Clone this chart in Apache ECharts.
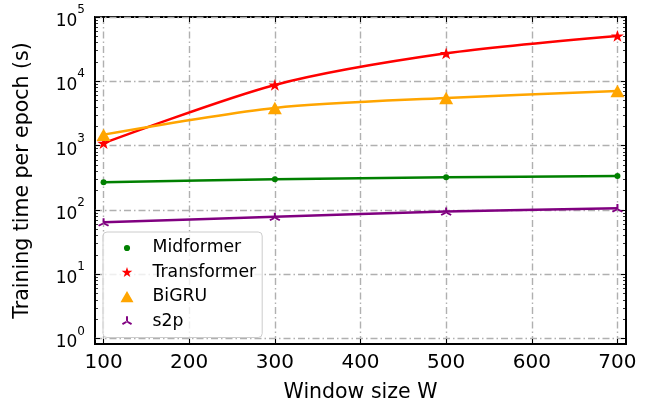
<!DOCTYPE html>
<html>
<head>
<meta charset="utf-8">
<script src="https://cdn.jsdelivr.net/npm/echarts@6/dist/echarts.min.js"></script>
<style>
  html, body { margin: 0; padding: 0; background: #fff; }
  #chart { width: 649px; height: 411px; }
</style>
</head>
<body>
<div id="chart"></div>
<script>
// window sizes (x) and training time per epoch in seconds (y, log scale)
var windowSizes = [100, 300, 500, 700];
var midformer   = [269, 299, 321, 337];
var transformer = [1090, 8770, 27200, 50700];
var bigru       = [1480, 3850, 5500, 7050];
var s2p         = [64, 78, 94, 106];

var xTicks = [100, 200, 300, 400, 500, 600, 700];
var yTicks = [1, 10, 100, 1000, 10000, 100000];

var seriesNames = ['Midformer', 'Transformer', 'BiGRU', 's2p'];
var seriesColors = ['#008000', '#ff0000', '#ffa500', '#800080'];

// log minor ticks 2..9 x 10^n
var yMinor = [];
for (var e = 0; e < 5; e++) {
  for (var m = 2; m <= 9; m++) yMinor.push(m * Math.pow(10, e));
}

function pairs(vals) {
  return windowSizes.map(function(x, i) { return [x, vals[i]]; });
}

var starPath = 'M0,-10L2.245,-3.09L9.511,-3.09L3.633,1.18L5.878,8.09L0,3.82L-5.878,8.09L-3.633,1.18L-9.511,-3.09L-2.245,-3.09Z';
var triPath = 'M-1.2,0L-1.2,-7L1.2,-7L1.2,0Z' +
  'M0.6,-1.04L6.66,2.46L5.46,4.54L-0.6,1.04Z' +
  'M-0.6,-1.04L-6.66,2.46L-5.46,4.54L0.6,1.04Z';
// corner points so that each legend icon keeps its own size in the box
var corners = 'M-10,-10Z M10,10Z ';
var legendIcons = [
  'path://' + corners + 'M-4.4,0A4.4,4.4,0,1,0,4.4,0A4.4,4.4,0,1,0,-4.4,0Z',
  'path://' + corners + 'M0,-8L1.8,-2.47L7.61,-2.47L2.91,0.94L4.7,6.47L0,3.06L-4.7,6.47L-2.91,0.94L-7.61,-2.47L-1.8,-2.47Z',
  'path://' + corners + 'M0,-8.5L9.3,7.5L-9.3,7.5Z',
  'path://' + corners + 'M-1.4,0L-1.4,-7.5L1.4,-7.5L1.4,0Z M0.7,-1.2L7.2,2.55L5.8,4.95L-0.7,1.2Z M-0.7,-1.2L-7.2,2.55L-5.8,4.95L0.7,1.2Z'
];
var seriesSymbols = ['circle', 'path://' + starPath, 'triangle', 'path://' + triPath];
var symbolSizes = [6, [13, 12.4], [14, 12.5], [11, 9.6]];
var seriesData = [midformer, transformer, bigru, s2p];

var gridColor = '#b0b0b0';
var dashDot = [7, 3, 1.5, 3];
var fontFamily = '"DejaVu Sans", sans-serif';

function tickOnlyAxis(base) {
  var a = {
    axisLine: {show: false},
    axisLabel: {show: false},
    splitLine: {show: false}
  };
  for (var k in base) a[k] = base[k];
  return a;
}

var chart = echarts.init(document.getElementById('chart'));

var series = seriesNames.map(function(name, i) {
  return {
    name: name,
    type: 'line',
    data: pairs(seriesData[i]),
    smooth: 0.28,
    symbol: seriesSymbols[i],
    symbolSize: symbolSizes[i],
    symbolKeepAspect: true,
    showAllSymbol: true,
    lineStyle: {color: seriesColors[i], width: 2.5},
    itemStyle: {color: seriesColors[i]},
    z: 3
  };
});

chart.setOption({
  animation: false,
  textStyle: {fontFamily: fontFamily},
  grid: {
    left: 95,
    right: 23,
    top: 17,
    bottom: 67,
    show: true,
    borderColor: '#000',
    borderWidth: 2,
    backgroundColor: 'transparent'
  },
  legend: {
    orient: 'vertical',
    left: 103,
    top: 232,
    padding: [6, 6, 6, 17],
    itemWidth: 41,
    itemHeight: 14,
    itemGap: 4.5,
    symbolKeepAspect: true,
    backgroundColor: 'rgba(255,255,255,0.8)',
    borderColor: '#cccccc',
    borderWidth: 1,
    borderRadius: 4,
    textStyle: {fontSize: 17.3, color: '#000', lineHeight: 20, fontFamily: fontFamily},
    data: seriesNames.map(function(n, i) {
      return {name: n, icon: legendIcons[i], itemStyle: {color: seriesColors[i]}};
    })
  },
  xAxis: [
    {
      type: 'value',
      min: 90,
      max: 710,
      position: 'bottom',
      name: 'Window size W',
      nameLocation: 'middle',
      nameGap: 38,
      nameTextStyle: {fontSize: 20.5, color: '#000', fontFamily: fontFamily},
      axisLine: {show: false},
      axisTick: {show: true, inside: true, length: 5, customValues: xTicks, lineStyle: {color: '#000', width: 1}},
      axisLabel: {customValues: xTicks, fontSize: 20, color: '#000', margin: 9, fontFamily: fontFamily},
      splitLine: {show: true, lineStyle: {color: gridColor, width: 1.4, type: dashDot}}
    },
    tickOnlyAxis({
      type: 'value',
      min: 90,
      max: 710,
      position: 'top',
      axisTick: {show: true, inside: true, length: 5, customValues: xTicks, lineStyle: {color: '#000', width: 1}}
    })
  ],
  yAxis: [
    {
      type: 'log',
      logBase: 10,
      min: 0.82,
      max: 100000,
      position: 'left',
      name: 'Training time per epoch (s)',
      nameLocation: 'middle',
      nameGap: 62,
      nameTextStyle: {fontSize: 20.5, color: '#000', fontFamily: fontFamily},
      axisLine: {show: false},
      axisTick: {show: true, inside: true, length: 5, customValues: yTicks, lineStyle: {color: '#000', width: 1}},
      axisLabel: {
        customValues: yTicks,
        margin: 10,
        color: '#000',
        formatter: function(v) {
          var p = Math.round(Math.log(v) / Math.LN10);
          return '{b|10}{s|' + p + '}';
        },
        rich: {
          b: {fontSize: 17, color: '#000', fontFamily: fontFamily, verticalAlign: 'bottom', lineHeight: 26},
          s: {fontSize: 12, color: '#000', fontFamily: fontFamily, verticalAlign: 'top', lineHeight: 26}
        }
      },
      splitLine: {show: true, lineStyle: {color: gridColor, width: 1.4, type: dashDot}}
    },
    tickOnlyAxis({
      type: 'log', logBase: 10, min: 0.82, max: 100000, position: 'left',
      axisTick: {show: true, inside: true, length: 3, customValues: yMinor, lineStyle: {color: '#000', width: 0.8}}
    }),
    tickOnlyAxis({
      type: 'log', logBase: 10, min: 0.82, max: 100000, position: 'right',
      axisTick: {show: true, inside: true, length: 5, customValues: yTicks, lineStyle: {color: '#000', width: 1}}
    }),
    tickOnlyAxis({
      type: 'log', logBase: 10, min: 0.82, max: 100000, position: 'right',
      axisTick: {show: true, inside: true, length: 3, customValues: yMinor, lineStyle: {color: '#000', width: 0.8}}
    })
  ],
  series: series
});

window.addEventListener('resize', function() {
  chart.resize();
});
</script>
</body>
</html>
